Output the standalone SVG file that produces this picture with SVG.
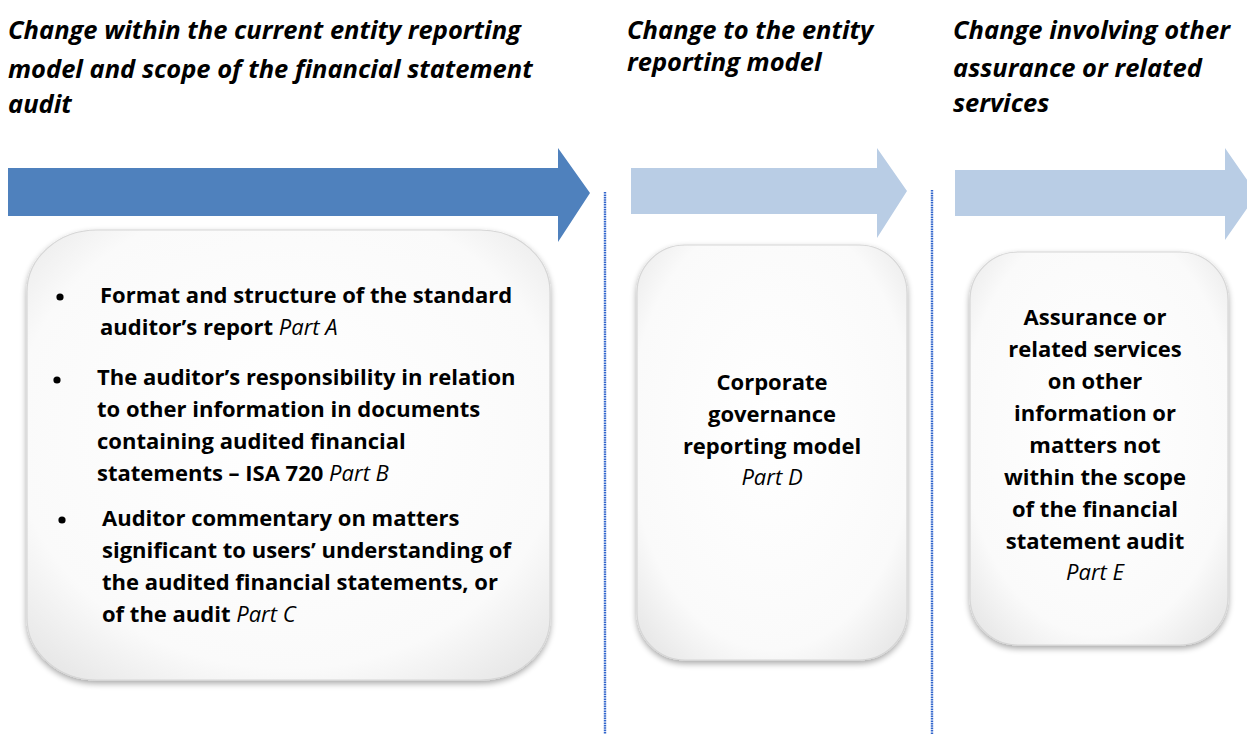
<svg xmlns="http://www.w3.org/2000/svg" width="1247" height="734" viewBox="0 0 1247 734">
<style>
.title{font-family:"Open Sans","Noto Sans","Liberation Sans",sans-serif;font-weight:bold;font-style:italic;font-size:25.5px;fill:#000}
.body{font-family:"Open Sans","Noto Sans","Liberation Sans",sans-serif;font-weight:bold;font-size:22px;fill:#000}
.it{font-weight:normal;font-style:italic}
.box{fill:url(#boxfill);stroke:#d6d6d6;stroke-width:1.2;filter:url(#shadow)}
.sep{stroke:#3366CC;stroke-width:2.4;stroke-dasharray:1.6 0.8;fill:none}
</style>
<defs>
<radialGradient id="boxfill" cx="50%" cy="45%" r="70%">
<stop offset="0" stop-color="#ffffff"/>
<stop offset="0.75" stop-color="#fafafa"/>
<stop offset="1" stop-color="#e6e6e6"/>
</radialGradient>
<filter id="shadow" x="-10%" y="-10%" width="120%" height="125%">
<feGaussianBlur in="SourceAlpha" stdDeviation="3"/>
<feOffset dx="0" dy="3" result="b"/>
<feComponentTransfer><feFuncA type="linear" slope="0.35"/></feComponentTransfer>
<feMerge><feMergeNode/><feMergeNode in="SourceGraphic"/></feMerge>
</filter>
</defs>
<rect width="1247" height="734" fill="#fff"/>

<g id="titles">
<text class="title" x="8" y="39">Change within the current entity reporting</text>
<text class="title" x="8" y="78">model and scope of the financial statement</text>
<text class="title" x="8" y="113">audit</text>
<text class="title" x="627" y="39">Change to the entity</text>
<text class="title" x="627" y="71">reporting model</text>
<text class="title" x="953" y="39">Change involving other</text>
<text class="title" x="953" y="77">assurance or related</text>
<text class="title" x="953" y="112">services</text>
</g>

<g id="arrows">
<polygon points="8,168 558,168 558,148 590,193 558,242 558,216 8,216" fill="#4F81BD"/>
<polygon points="631,168 877,168 877,148 907,191 877,238 877,214 631,214" fill="#B9CDE5"/>
<polygon points="955,170 1225,170 1225,148 1257,194 1225,240 1225,216 955,216" fill="#B9CDE5"/>
</g>

<g id="connectors">
<line class="sep" x1="605" y1="192" x2="605" y2="734"/>
<line class="sep" x1="932" y1="190" x2="932" y2="734"/>
</g>

<g id="node-a">
<rect class="box" x="27" y="230" width="523" height="450" rx="70" ry="62"/>
<circle cx="60" cy="297" r="3.6" fill="#000"/>
<circle cx="57" cy="380" r="3.6" fill="#000"/>
<circle cx="62" cy="520" r="3.6" fill="#000"/>
<text class="body" x="100" y="303">Format and structure of the standard</text>
<text class="body" x="100" y="335">auditor’s report <tspan class="it">Part A</tspan></text>
<text class="body" x="97" y="385">The auditor’s responsibility in relation</text>
<text class="body" x="97" y="417">to other information in documents</text>
<text class="body" x="97" y="449">containing audited financial</text>
<text class="body" x="97" y="481">statements – ISA 720 <tspan class="it">Part B</tspan></text>
<text class="body" x="102" y="526">Auditor commentary on matters</text>
<text class="body" x="102" y="558">significant to users’ understanding of</text>
<text class="body" x="102" y="590">the audited financial statements, or</text>
<text class="body" x="102" y="622">of the audit <tspan class="it">Part C</tspan></text>
</g>

<g id="node-d">
<rect class="box" x="637" y="245" width="270" height="415" rx="48" ry="48"/>
<g text-anchor="middle">
<text class="body" x="772" y="390">Corporate</text>
<text class="body" x="772" y="422">governance</text>
<text class="body" x="772" y="454">reporting model</text>
<text class="body it" x="772" y="485">Part D</text>
</g>
</g>

<g id="node-e">
<rect class="box" x="970" y="252" width="258" height="393" rx="48" ry="48"/>
<g text-anchor="middle">
<text class="body" x="1095" y="325">Assurance or</text>
<text class="body" x="1095" y="357">related services</text>
<text class="body" x="1095" y="389">on other</text>
<text class="body" x="1095" y="421">information or</text>
<text class="body" x="1095" y="453">matters not</text>
<text class="body" x="1095" y="485">within the scope</text>
<text class="body" x="1095" y="517">of the financial</text>
<text class="body" x="1095" y="549">statement audit</text>
<text class="body it" x="1095" y="580">Part E</text>
</g>
</g>
</svg>
